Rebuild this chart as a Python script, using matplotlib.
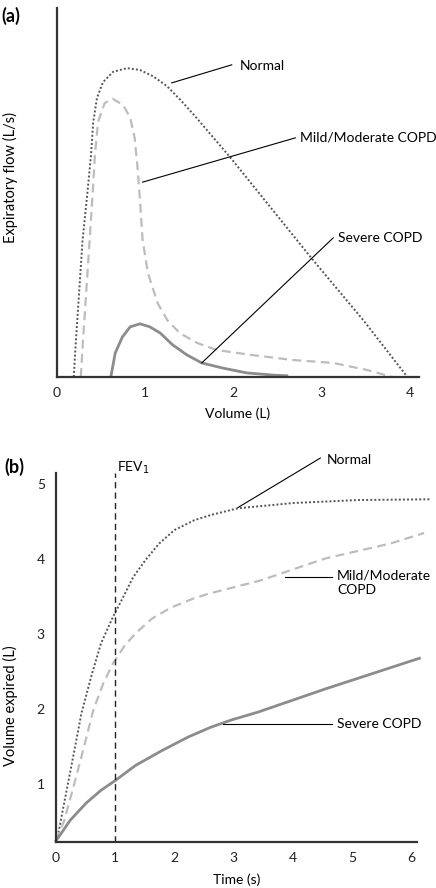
import matplotlib
matplotlib.use('Agg')
import matplotlib.pyplot as plt

plt.rcParams['font.family'] = ['Lato', 'DejaVu Sans']

# (a) flow-volume loops: volume (L), flow (arbitrary units)
norm_v = [0.19, 0.215, 0.24, 0.29, 0.345, 0.385, 0.41, 0.453, 0.521, 0.635, 0.793, 0.94,
          1.088, 1.247, 1.394, 1.56, 1.96, 2.90, 3.47, 3.97]
norm_f = [0.0, 1.0, 1.90, 3.71, 5.0, 6.0, 6.9, 7.56, 7.99, 8.27, 8.37, 8.32,
          8.15, 7.88, 7.52, 7.08, 5.96, 3.17, 1.54, 0.0]

mild_v = [0.27, 0.295, 0.32, 0.37, 0.41, 0.43, 0.465, 0.54, 0.63, 0.75, 0.83, 0.88, 0.91,
          0.94, 0.97, 1.03, 1.14, 1.25, 1.39, 1.59, 1.81, 2.19, 2.67, 3.13, 3.51, 3.80]
mild_f = [0.0, 1.0, 1.9, 3.71, 5.2, 6.02, 6.91, 7.42, 7.54, 7.37, 7.02, 6.48, 5.75,
          4.8, 3.71, 2.82, 2.0, 1.54, 1.19, 0.92, 0.73, 0.60, 0.46, 0.38, 0.19, 0.0]

sev_v = [0.61, 0.66, 0.74, 0.83, 0.94, 1.05, 1.17, 1.31, 1.47, 1.64, 1.88, 2.15, 2.45, 2.62]
sev_f = [0.0, 0.65, 1.08, 1.36, 1.44, 1.36, 1.19, 0.87, 0.60, 0.38, 0.24, 0.11, 0.05, 0.03]

vol_ticks = [0, 1, 2, 3, 4]

# (b) volume-time curves: time (s), volume (L)
norm_t = [0.0, 0.04, 0.18, 0.31, 0.43, 0.61, 0.76, 0.96, 1.13, 1.30, 1.51, 1.74, 2.0,
          2.33, 2.61, 3.07, 4.0, 5.1, 6.33]
norm_y = [0.25, 0.35, 0.92, 1.45, 1.95, 2.48, 2.88, 3.23, 3.49, 3.76, 3.99, 4.21, 4.39,
          4.52, 4.59, 4.68, 4.75, 4.79, 4.80]

mild_t = [0.0, 0.14, 0.31, 0.47, 0.63, 0.80, 0.96, 1.16, 1.34, 1.62, 1.95, 2.33, 2.57,
          3.46, 4.54, 5.64, 6.21]
mild_y = [0.25, 0.52, 1.01, 1.49, 1.99, 2.35, 2.61, 2.85, 3.01, 3.21, 3.36, 3.48, 3.54,
          3.72, 4.01, 4.21, 4.35]

sev_t = [0.0, 0.04, 0.24, 0.51, 0.76, 1.0, 1.34, 1.79, 2.23, 2.61, 2.97, 3.40, 4.54, 6.13]
sev_y = [0.25, 0.29, 0.52, 0.75, 0.92, 1.05, 1.25, 1.45, 1.63, 1.76, 1.86, 1.96, 2.27, 2.68]

time_ticks = [0, 1, 2, 3, 4, 5, 6]
vol_exp_ticks = [1, 2, 3, 4, 5]

c_norm = '#555555'
c_mild = '#bdbdbd'
c_sev = '#8c8c8c'
c_axis = '#333333'

fig = plt.figure(figsize=(4.36, 8.88), dpi=100)
ax1 = fig.add_axes([0.1307, 0.5755, 0.830, 0.4155])
ax2 = fig.add_axes([0.1284, 0.0518, 0.828, 0.4155])

for ax in (ax1, ax2):
    for s in ('top', 'right'):
        ax.spines[s].set_visible(False)
    for s in ('left', 'bottom'):
        ax.spines[s].set_color(c_axis)
        ax.spines[s].set_linewidth(1.6)
    ax.tick_params(length=0, labelsize=10, colors='#222222')

# panel (a)
ax1.plot(norm_v, norm_f, color=c_norm, lw=1.4, linestyle=(0, (1, 1.1)))
ax1.plot(mild_v, mild_f, color=c_mild, lw=1.6, linestyle=(0, (4, 2.4)))
ax1.plot(sev_v, sev_f, color=c_sev, lw=2.0, solid_capstyle='butt', solid_joinstyle='round')
ax1.set_xlim(0, 4.1)
ax1.set_ylim(0, 10)
ax1.set_xticks(vol_ticks)
ax1.set_yticks([])
ax1.tick_params(axis='x', pad=7)
ax1.set_xlabel('Volume (L)', fontsize=10, labelpad=6)
ax1.set_ylabel('Expiratory flow (L/s)', fontsize=10.5)
ax1.yaxis.set_label_coords(-0.108, 0.54)

ax1.plot([1.30, 1.98], [7.97, 8.46], color='black', lw=0.8)
ax1.text(2.07, 8.43, 'Normal', fontsize=10, va='center', ha='left')
ax1.plot([0.97, 2.70], [5.28, 6.48], color='black', lw=0.8)
ax1.text(2.75, 6.50, 'Mild/Moderate COPD', fontsize=10, va='center', ha='left', clip_on=False)
ax1.plot([1.64, 3.13], [0.38, 3.77], color='black', lw=0.8)
ax1.text(3.18, 3.77, 'Severe COPD', fontsize=10, va='center', ha='left')

fig.text(0.003, 1 - 16 / 888, '(a)', fontsize=13, fontweight='bold', va='center', ha='left')

# panel (b)
ax2.plot(norm_t, norm_y, color=c_norm, lw=1.4, linestyle=(0, (1, 1.1)), clip_on=False)
ax2.plot(mild_t, mild_y, color=c_mild, lw=1.6, linestyle=(0, (4, 2.4)), clip_on=False)
ax2.plot(sev_t, sev_y, color=c_sev, lw=2.0, solid_joinstyle='round', clip_on=False)
ax2.axvline(1, color='#222222', lw=1.0, linestyle=(0, (4.5, 3)))
ax2.set_xlim(0, 6.09)
ax2.set_ylim(0.23, 5.15)
ax2.set_xticks(time_ticks)
ax2.set_yticks(vol_exp_ticks)
ax2.tick_params(axis='x', pad=7)
ax2.tick_params(axis='y', pad=8)
ax2.set_xlabel('Time (s)', fontsize=10, labelpad=7)
ax2.set_ylabel('Volume expired (L)', fontsize=10.5)
ax2.yaxis.set_label_coords(-0.105, 0.37)

ax2.text(1.03, 5.17, 'FEV$_1$', fontsize=10, va='baseline', ha='left', clip_on=False)
ax2.plot([3.07, 4.46], [4.69, 5.35], color='black', lw=0.8, clip_on=False)
ax2.text(4.57, 5.33, 'Normal', fontsize=10, va='center', ha='left', clip_on=False)
ax2.plot([3.87, 4.66], [3.76, 3.76], color='black', lw=0.8)
ax2.text(4.74, 3.87, 'Mild/Moderate\nCOPD', fontsize=10, va='top', ha='left',
         linespacing=1.3, clip_on=False)
ax2.plot([2.82, 4.66], [1.81, 1.81], color='black', lw=0.8)
ax2.text(4.74, 1.81, 'Severe COPD', fontsize=10, va='center', ha='left')

fig.text(0.010, 1 - 467 / 888, '(b)', fontsize=13, fontweight='bold', va='center', ha='left')

fig.savefig('out.png', dpi=100)
